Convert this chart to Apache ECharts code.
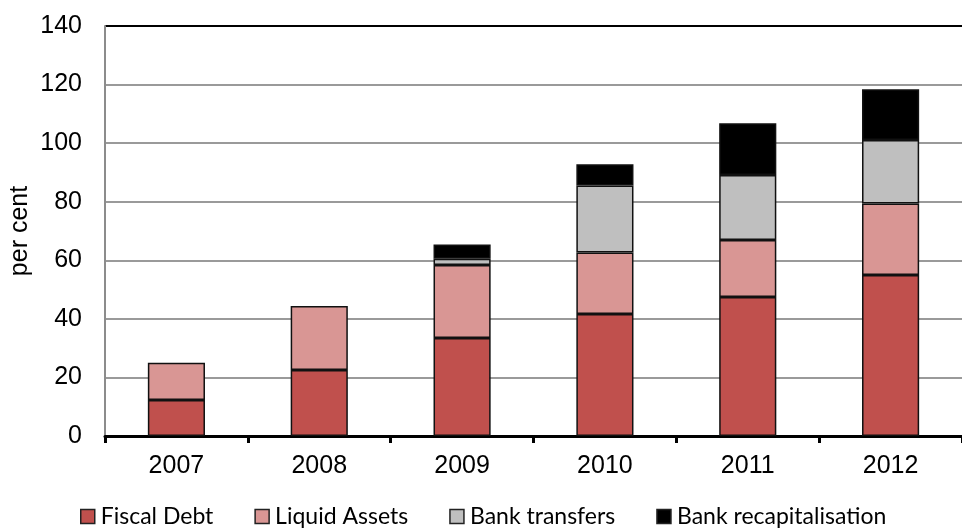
<!DOCTYPE html>
<html>
<head>
<meta charset="utf-8">
<script src="https://cdn.jsdelivr.net/npm/echarts@6/dist/echarts.min.js"></script>
<style>
html,body{margin:0;padding:0;background:#fff;}
#chart{width:962px;height:528px;}
</style>
</head>
<body>
<div id="chart"></div>
<script>
var categories = ['2007', '2008', '2009', '2010', '2011', '2012'];
var fiscalDebt = [12.3, 22.5, 33.5, 41.7, 47.5, 55.0];
var liquidAssets = [12.7, 21.9, 24.9, 21.0, 19.4, 24.4];
var bankTransfers = [0, 0, 2.1, 22.8, 22.2, 21.7];
var bankRecap = [0, 0, 4.9, 7.3, 17.7, 17.3];
var seriesNames = ['Fiscal Debt', 'Liquid Assets', 'Bank transfers', 'Bank recapitalisation'];
var seriesColors = ['#C0504D', '#D99694', '#BFBFBF', '#000000'];
var seriesData = [fiscalDebt, liquidAssets, bankTransfers, bankRecap];

var chart = echarts.init(document.getElementById('chart'));
var gridColors = ['#9a9a9a','#9a9a9a','#9a9a9a','#9a9a9a','#9a9a9a','#9a9a9a','#9a9a9a','#000000'];
var axisFont = 'Liberation Sans';
chart.setOption({
  animation: false,
  backgroundColor: '#ffffff',
  grid: {left: 105, right: 0, top: 26, bottom: 92, containLabel: false, outerBoundsMode: 'none'},
  legend: {
    bottom: -5,
    left: 75,
    itemWidth: 14,
    itemHeight: 14,
    itemGap: 41,
    icon: 'rect',
    textStyle: {fontFamily: 'Lato', fontSize: 23, color: '#000', padding: [0, 0, 0, 1]},
    data: seriesNames.map(function(n, i){ return {name: n, itemStyle: {color: seriesColors[i], borderColor: '#222', borderWidth: 1.5}}; })
  },
  xAxis: {
    type: 'category',
    data: categories,
    boundaryGap: true,
    axisLine: {lineStyle: {color: '#000', width: 3}},
    axisTick: {show: true, length: 7, lineStyle: {color: '#000', width: 3}},
    axisLabel: {fontFamily: axisFont, fontSize: 25, color: '#000', margin: 18}
  },
  yAxis: {
    type: 'value',
    min: 0, max: 140, interval: 20,
    name: 'per cent',
    nameLocation: 'middle',
    nameGap: 72,
    nameMoveOverlap: false,
    nameRotate: 90,
    nameTextStyle: {fontFamily: axisFont, fontSize: 25, color: '#000'},
    axisLine: {show: true, lineStyle: {color: '#8c8c8c', width: 2}},
    axisTick: {show: false},
    axisLabel: {fontFamily: axisFont, fontSize: 25, color: '#000', margin: 23},
    splitLine: {show: true, lineStyle: {color: gridColors, width: 2}}
  },
  series: seriesNames.map(function(n, i){
    return {
      name: n,
      type: 'bar',
      stack: 'total',
      barWidth: '40%',
      data: seriesData[i].map(function(v){ return v === 0 ? null : v; }),
      itemStyle: {color: seriesColors[i], borderColor: '#111', borderWidth: 1.5}
    };
  })
});
</script>
</body>
</html>
